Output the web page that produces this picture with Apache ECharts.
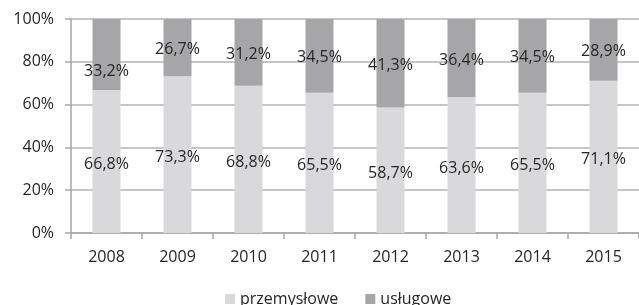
<!DOCTYPE html>
<html>
<head>
<meta charset="utf-8">
<style>
  html, body { margin: 0; padding: 0; background: #fff; }
  #chart { width: 639px; height: 305px; }
</style>
<script src="https://cdn.jsdelivr.net/npm/echarts@6/dist/echarts.min.js"></script>
</head>
<body>
<div id="chart"></div>
<script>
var years = ['2008', '2009', '2010', '2011', '2012', '2013', '2014', '2015'];
var przemyslowe = [66.8, 73.3, 68.8, 65.5, 58.7, 63.6, 65.5, 71.1];
var uslugowe = [33.2, 26.7, 31.2, 34.5, 41.3, 36.4, 34.5, 28.9];
var yTicks = [0, 20, 40, 60, 80, 100];

var font = '"Open Sans", "Noto Sans", sans-serif';
var textColor = '#262626';

function fmt(v) {
    return v.toFixed(1).replace('.', ',') + '%';
}

// first label of the upper series sits lower in the original
var uslugoweData = uslugowe.map(function (v, i) {
    if (i === 0) return { value: v, label: { offset: [0, 17] } };
    return v;
});

var myChart = echarts.init(document.getElementById('chart'));
myChart.setOption({
    animation: false,
    textStyle: { fontFamily: font },
    grid: { left: 71, top: 19, width: 573, height: 214 },
    legend: {
        top: 286,
        left: 220,
        itemWidth: 10,
        itemHeight: 10,
        itemGap: 27,
        icon: 'rect',
        textStyle: { fontFamily: font, fontSize: 16, color: textColor },
        data: ['przemysłowe', 'usługowe']
    },
    xAxis: {
        type: 'category',
        data: years,
        axisLine: { lineStyle: { color: '#a6a6a6', width: 1.5 } },
        axisTick: { show: true, length: 6, alignWithLabel: false, lineStyle: { color: '#a6a6a6', width: 1.5 } },
        axisLabel: { fontFamily: font, fontSize: 16, color: textColor, margin: 16 }
    },
    yAxis: {
        type: 'value',
        min: yTicks[0],
        max: yTicks[yTicks.length - 1],
        interval: 20,
        axisLine: { show: true, lineStyle: { color: '#a6a6a6', width: 1.5 } },
        axisTick: { show: true, inside: false, length: 6, lineStyle: { color: '#a6a6a6', width: 1.5 } },
        splitLine: { lineStyle: { color: '#b3b3b3', width: 1.5 } },
        axisLabel: { fontFamily: font, fontSize: 16, color: textColor, margin: 17, formatter: '{value}%' }
    },
    series: [
        {
            name: 'przemysłowe',
            type: 'bar',
            stack: 'total',
            barWidth: 28,
            data: przemyslowe,
            itemStyle: { color: '#d9d9db' },
            label: {
                show: true, position: 'inside', offset: [0, 3],
                fontFamily: font, fontSize: 16, color: textColor,
                formatter: function (p) { return fmt(p.value); }
            }
        },
        {
            name: 'usługowe',
            type: 'bar',
            stack: 'total',
            barWidth: 28,
            data: uslugoweData,
            itemStyle: { color: '#a6a6a8' },
            label: {
                show: true, position: 'inside', offset: [0, 2],
                fontFamily: font, fontSize: 16, color: textColor,
                formatter: function (p) { return fmt(p.value); }
            }
        }
    ]
});
</script>
</body>
</html>
